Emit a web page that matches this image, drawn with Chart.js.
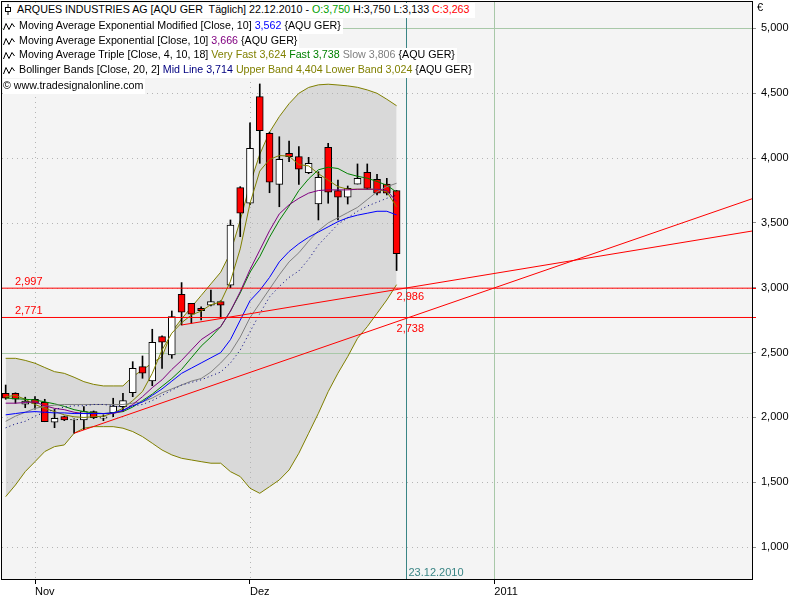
<!DOCTYPE html>
<html>
<head>
<meta charset="utf-8">
<script src="https://cdn.jsdelivr.net/npm/chart.js@4/dist/chart.umd.min.js"></script>
<style>
  body { margin: 0; background: #fff; }
  #wrap { position: relative; width: 800px; height: 600px; }
  .row { position: absolute; left: 3px; height: 15px; line-height: 15px; background: #fff;
         font: 10.7px "Liberation Sans", Arial, sans-serif; color: #000; white-space: nowrap; padding-right: 2px; }
  .row svg { vertical-align: -2px; margin-right: 4px; }
  .euro { position: absolute; left: 757px; top: 1px; font: 11px "Liberation Sans", Arial, sans-serif; }
</style>
</head>
<body>
<div id="wrap">
  <canvas id="chart" width="800" height="600"></canvas>
  <div class="row" style="top:3px; width:470px">
    <svg width="10" height="11"><line x1="5" y1="0" x2="5" y2="11" stroke="#000"/><rect x="2.5" y="3.5" width="5" height="4" fill="#fff" stroke="#000"/></svg>ARQUES INDUSTRIES AG [AQU GER&nbsp; Täglich] 22.12.2010 - <span style="color:#00a000">O:3,750</span> H:3,750 L:3,133 <span style="color:#f00">C:3,263</span>
  </div>
  <div class="row" style="top:19px">
    <svg width="12" height="9"><path d="M0.5 8 L3 1.5 L6 7.5 L9 1.5 L11.5 5" fill="none" stroke="#000"/></svg>Moving Average Exponential Modified [Close, 10] <span style="color:#0000ff">3,562</span> {AQU GER}
  </div>
  <div class="row" style="top:34px">
    <svg width="12" height="9"><path d="M0.5 8 L3 1.5 L6 7.5 L9 1.5 L11.5 5" fill="none" stroke="#000"/></svg>Moving Average Exponential [Close, 10] <span style="color:#800080">3,666</span> {AQU GER}
  </div>
  <div class="row" style="top:48px">
    <svg width="12" height="9"><path d="M0.5 8 L3 1.5 L6 7.5 L9 1.5 L11.5 5" fill="none" stroke="#000"/></svg>Moving Average Triple [Close, 4, 10, 18] <span style="color:#808000">Very Fast 3,624</span> <span style="color:#008000">Fast 3,738</span> <span style="color:#808080">Slow 3,806</span> {AQU GER}
  </div>
  <div class="row" style="top:63px">
    <svg width="12" height="9"><path d="M0.5 8 L3 1.5 L6 7.5 L9 1.5 L11.5 5" fill="none" stroke="#000"/></svg>Bollinger Bands [Close, 20, 2] <span style="color:#000080">Mid Line 3,714</span> <span style="color:#808000">Upper Band 4,404 Lower Band 3,024</span> {AQU GER}
  </div>
  <div class="row" style="top:79px">&copy; www.tradesignalonline.com</div>
  <div class="euro">€</div>
</div>
<script>
// trading day index: 0 = 1 Nov 2010, 22 = 1 Dec 2010, 37 = 22 Dec 2010
const dayIdx = [-3, -2, -1, 0, 1, 2, 3, 4, 5, 6, 7, 8, 9, 10, 11, 12, 13, 14, 15, 16, 17, 18, 19, 20,
  21, 22, 23, 24, 25, 26, 27, 28, 29, 30, 31, 32, 33, 34, 35, 36, 37];

const opens = [2.186, 2.186, 2.102, 2.14, 2.117, 1.963, 2.006, 1.98, 1.98, 2.045, 1.995, 2.037, 2.083,
  2.191, 2.392, 2.281, 2.623, 2.482, 2.95, 2.88, 2.842, 2.865, 2.893, 3.021, 3.772, 3.652, 4.474, 4.192,
  3.798, 4.037, 4.011, 3.888, 3.646, 4.084, 3.749, 3.698, 3.8, 3.891, 3.837, 3.8, 3.75];
const highs = [2.25, 2.19, 2.156, 2.16, 2.14, 2.063, 2.01, 1.99, 2.083, 2.05, 2.02, 2.148, 2.186,
  2.43, 2.474, 2.68, 2.63, 2.821, 3.04, 2.88, 2.854, 2.983, 2.9, 3.523, 3.78, 4.273, 4.572, 4.2,
  4.165, 4.132, 4.088, 4.006, 3.895, 4.114, 3.831, 3.785, 3.955, 3.955, 3.875, 3.844, 3.75];
const lows = [2.14, 2.109, 2.075, 2.063, 1.967, 1.921, 1.975, 1.878, 1.905, 1.99, 1.975, 2.006, 2.045,
  2.16, 2.302, 2.245, 2.379, 2.456, 2.713, 2.726, 2.752, 2.86, 2.765, 3.0, 3.394, 3.64, 3.96, 3.733,
  3.625, 3.973, 3.798, 3.88, 3.523, 3.652, 3.523, 3.646, 3.8, 3.76, 3.716, 3.716, 3.133];
const closes = [2.148, 2.14, 2.127, 2.109, 1.967, 1.994, 1.98, 1.985, 2.045, 1.998, 2.005, 2.088, 2.13,
  2.379, 2.341, 2.58, 2.58, 2.777, 2.811, 2.796, 2.823, 2.893, 2.865, 3.484, 3.575, 4.076, 4.212, 3.814,
  3.991, 4.011, 3.914, 3.96, 3.852, 3.737, 3.698, 3.767, 3.844, 3.767, 3.729, 3.729, 3.263];

// indicators
const bbUpper = [2.456, 2.456, 2.44, 2.418, 2.385, 2.353, 2.34, 2.31, 2.276, 2.255, 2.243, 2.243, 2.243,
  2.315, 2.366, 2.42, 2.469, 2.66, 2.76, 2.85, 2.94, 3.03, 3.12, 3.27, 3.52, 3.8, 4.03, 4.2,
  4.32, 4.42, 4.5, 4.545, 4.565, 4.57, 4.564, 4.557, 4.546, 4.526, 4.5, 4.454, 4.404];
const bbLower = [1.389, 1.479, 1.582, 1.659, 1.737, 1.775, 1.788, 1.878, 1.917, 1.929, 1.929, 1.929, 1.917,
  1.891, 1.852, 1.801, 1.749, 1.711, 1.685, 1.672, 1.659, 1.647, 1.647, 1.582, 1.544, 1.454, 1.415, 1.466,
  1.518, 1.595, 1.724, 1.878, 2.032, 2.199, 2.341, 2.469, 2.61, 2.7, 2.803, 2.906, 3.024];
const bbMid = [1.92, 1.95, 1.97, 2.01, 2.04, 2.06, 2.08, 2.09, 2.09, 2.1, 2.1, 2.09, 2.08,
  2.09, 2.1, 2.13, 2.17, 2.21, 2.25, 2.27, 2.29, 2.32, 2.35, 2.42, 2.52, 2.66, 2.8, 2.93,
  3.01, 3.08, 3.13, 3.22, 3.33, 3.41, 3.49, 3.54, 3.59, 3.63, 3.66, 3.69, 3.714];
const emaMod = [2.02, 2.03, 2.04, 2.045, 2.04, 2.035, 2.035, 2.03, 2.03, 2.03, 2.03, 2.035, 2.055,
  2.09, 2.12, 2.17, 2.22, 2.28, 2.34, 2.38, 2.42, 2.46, 2.5, 2.6, 2.75, 2.9, 2.98, 3.08,
  3.2, 3.28, 3.34, 3.39, 3.43, 3.47, 3.51, 3.54, 3.56, 3.575, 3.59, 3.59, 3.562];
const ema = [2.11, 2.11, 2.115, 2.12, 2.09, 2.07, 2.06, 2.04, 2.03, 2.03, 2.03, 2.03, 2.05,
  2.1, 2.16, 2.23, 2.29, 2.37, 2.44, 2.52, 2.6, 2.65, 2.7, 2.82, 2.97, 3.14, 3.29, 3.44,
  3.57, 3.64, 3.69, 3.73, 3.75, 3.755, 3.755, 3.755, 3.76, 3.76, 3.76, 3.75, 3.666];
const maVeryFast = [2.16, 2.17, 2.14, 2.1, 2.07, 2.045, 2.02, 2.005, 2.0, 2.005, 2.01, 2.035, 2.07,
  2.13, 2.2, 2.34, 2.52, 2.65, 2.73, 2.79, 2.82, 2.87, 2.89, 3.05, 3.3, 3.65, 3.9, 3.99,
  4.02, 4.015, 3.95, 3.94, 3.88, 3.83, 3.78, 3.76, 3.76, 3.76, 3.76, 3.74, 3.624];
const maFast = [2.15, 2.145, 2.14, 2.135, 2.12, 2.105, 2.085, 2.06, 2.045, 2.035, 2.03, 2.035, 2.045,
  2.08, 2.13, 2.18, 2.24, 2.3, 2.37, 2.46, 2.55, 2.62, 2.7, 2.82, 2.96, 3.12, 3.24, 3.39,
  3.52, 3.63, 3.75, 3.84, 3.91, 3.93, 3.92, 3.88, 3.86, 3.845, 3.82, 3.79, 3.738];
const maSlow = [1.97, 2.01, 2.04, 2.07, 2.085, 2.095, 2.1, 2.1, 2.1, 2.1, 2.1, 2.1, 2.1,
  2.11, 2.12, 2.15, 2.19, 2.22, 2.25, 2.28, 2.3, 2.35, 2.42, 2.5, 2.62, 2.77, 2.88, 2.99,
  3.1, 3.2, 3.27, 3.36, 3.44, 3.5, 3.54, 3.58, 3.62, 3.68, 3.74, 3.78, 3.806];

// drawn support levels and trend lines
const hLevels = [2.997, 2.771];
const trendA = [[4, 1.878], [73.4, 3.687]];
const trendB = [[15, 2.713], [73.4, 3.438]];
const trendLabelIdx = 37;
const trendLabels = [2.986, 2.738];

// axes
const xTickPos = [0, 22, 47];
const xTickLabels = ["Nov", "Dez", "2011"];
const xMajor = [47];
const yTickValues = [1, 1.5, 2, 2.5, 3, 3.5, 4, 4.5, 5];
const yMajor = [2.5, 5];
const markerIdx = 38;
const markerText = "23.12.2010";

const X_MIN = -3.377, X_MAX = 73.37;
const Y_MIN = 0.754, Y_MAX = 5.204;

const fmt = (v) => v.toFixed(3).replace(".", ",");
const pts = (arr) => dayIdx.map((x, k) => ({ x: x, y: arr[k] }));

const lineDs = (label, arr, color, extra) => Object.assign({
  type: "line", label: label, data: pts(arr), borderColor: color, borderWidth: 1,
  pointRadius: 0, tension: 0, fill: false, order: 1,
}, extra || {});

const hLineDs = hLevels.map((v) => ({
  type: "line", data: [{ x: X_MIN - 1, y: v }, { x: X_MAX + 1, y: v }],
  borderColor: "#ff0000", borderWidth: 1, pointRadius: 0, fill: false, order: 0,
}));
const trendDs = [trendA, trendB].map((t) => ({
  type: "line", data: t.map((p) => ({ x: p[0], y: p[1] })),
  borderColor: "#ff0000", borderWidth: 1, pointRadius: 0, fill: false, order: 0,
}));

const chartDecor = {
  id: "chartDecor",
  beforeDraw(chart) {
    const { ctx, chartArea: a } = chart;
    ctx.save();
    ctx.fillStyle = "#f4f4f4";
    ctx.fillRect(a.left, a.top, a.right - a.left, a.bottom - a.top);
    ctx.restore();
  },
  beforeDatasetsDraw(chart) {
    const { ctx, chartArea: a, scales: { x, y } } = chart;
    ctx.save();
    ctx.lineWidth = 1;
    // dotted grid
    ctx.strokeStyle = "#b4b4b4";
    ctx.setLineDash([1, 4]);
    ctx.beginPath();
    yTickValues.forEach((v) => {
      if (yMajor.includes(v)) return;
      const py = Math.round(y.getPixelForValue(v)) + 0.5;
      ctx.moveTo(a.left, py); ctx.lineTo(a.right, py);
    });
    xTickPos.forEach((v) => {
      if (xMajor.includes(v)) return;
      const px = Math.round(x.getPixelForValue(v)) + 0.5;
      ctx.moveTo(px, a.top); ctx.lineTo(px, a.bottom);
    });
    ctx.stroke();
    // major lines
    ctx.setLineDash([]);
    ctx.strokeStyle = "#a8c8a8";
    ctx.beginPath();
    yMajor.forEach((v) => {
      const py = Math.round(y.getPixelForValue(v)) + 0.5;
      ctx.moveTo(a.left, py); ctx.lineTo(a.right, py);
    });
    xMajor.forEach((v) => {
      const px = Math.round(x.getPixelForValue(v)) + 0.5;
      ctx.moveTo(px, a.top); ctx.lineTo(px, a.bottom);
    });
    ctx.stroke();
    // date marker
    const mx = Math.round(x.getPixelForValue(markerIdx)) + 0.5;
    ctx.strokeStyle = "#3a8585";
    ctx.beginPath(); ctx.moveTo(mx, a.top); ctx.lineTo(mx, a.bottom); ctx.stroke();
    ctx.fillStyle = "#3a8585";
    ctx.font = '11px "Liberation Sans", Arial, sans-serif';
    ctx.textBaseline = "bottom";
    ctx.fillText(markerText, mx + 2, a.bottom - 1);
    ctx.restore();
  },
  afterDatasetsDraw(chart) {
    const { ctx, chartArea: a, scales: { x, y } } = chart;
    ctx.save();
    ctx.fillStyle = "#ff0000";
    ctx.font = '11px "Liberation Sans", Arial, sans-serif';
    ctx.textBaseline = "bottom";
    hLevels.forEach((v) => ctx.fillText(fmt(v), a.left + 13, y.getPixelForValue(v) - 1));
    ctx.textBaseline = "top";
    const lx = x.getPixelForValue(trendLabelIdx);
    trendLabels.forEach((v) => ctx.fillText(fmt(v), lx, y.getPixelForValue(v) + 2));
    // red level ticks on the price axis
    ctx.strokeStyle = "#ff0000";
    ctx.beginPath();
    hLevels.forEach((v) => {
      const py = Math.round(y.getPixelForValue(v)) + 0.5;
      ctx.moveTo(a.right, py); ctx.lineTo(a.right + 4, py);
    });
    ctx.stroke();
    // frame
    ctx.strokeStyle = "#000";
    ctx.strokeRect(a.left - 0.5, a.top - 0.5, a.right - a.left + 1, a.bottom - a.top + 1);
    ctx.restore();
  },
};

Chart.defaults.font.family = '"Liberation Sans", Arial, sans-serif';
Chart.defaults.font.size = 11;
Chart.defaults.color = "#000";

new Chart(document.getElementById("chart"), {
  type: "bar",
  data: {
    datasets: [
      ...hLineDs,
      ...trendDs,
      lineDs("Mid Line", bbMid, "#000080", { borderDash: [1, 3] }),
      lineDs("MA Exp Modified", emaMod, "#0000ff"),
      lineDs("MA Exp", ema, "#800080"),
      lineDs("Slow", maSlow, "#808080"),
      lineDs("Fast", maFast, "#008000"),
      lineDs("Very Fast", maVeryFast, "#808000"),
      {
        label: "bodies",
        data: dayIdx.map((x, k) => ({ x: x, y: [opens[k], closes[k]] })),
        backgroundColor: dayIdx.map((x, k) => (closes[k] < opens[k] ? "#ff0000" : "#ffffff")),
        borderColor: "#000", borderWidth: 1, borderSkipped: false,
        barThickness: 7, grouped: false, order: 2,
      },
      {
        label: "wicks",
        data: dayIdx.map((x, k) => ({ x: x, y: [lows[k], highs[k]] })),
        backgroundColor: "#000", borderWidth: 0, barThickness: 1, grouped: false, order: 3,
      },
      lineDs("Upper Band", bbUpper, "#808000", { fill: "+1", backgroundColor: "#d9d9d9", order: 4 }),
      lineDs("Lower Band", bbLower, "#808000", { order: 4 }),
    ],
  },
  options: {
    responsive: false,
    animation: false,
    layout: { padding: { left: 2, top: 2, right: 0, bottom: 0 } },
    plugins: {
      legend: { display: false },
      tooltip: { enabled: false },
      filler: { drawTime: "beforeDatasetsDraw" },
    },
    scales: {
      x: {
        type: "linear", min: X_MIN, max: X_MAX, offset: false,
        afterBuildTicks: (s) => { s.ticks = xTickPos.map((v) => ({ value: v })); },
        afterFit: (s) => { s.height = 21; s.paddingLeft = 0; s.paddingRight = 0; },
        ticks: {
          autoSkip: false, maxRotation: 0, align: "start", padding: 1,
          callback: (v) => xTickLabels[xTickPos.indexOf(v)],
        },
        grid: { drawOnChartArea: false, offset: false, tickLength: 5, tickColor: "#000" },
        border: { display: false },
      },
      y: {
        type: "linear", position: "right", min: Y_MIN, max: Y_MAX,
        afterBuildTicks: (s) => { s.ticks = yTickValues.map((v) => ({ value: v })); },
        afterFit: (s) => { s.width = 48; s.paddingTop = 0; s.paddingBottom = 0; },
        ticks: { padding: 5, callback: (v) => fmt(v) },
        grid: { drawOnChartArea: false, tickLength: 4, tickColor: "#909090" },
        border: { display: false },
      },
    },
  },
  plugins: [chartDecor],
});
</script>
</body>
</html>
